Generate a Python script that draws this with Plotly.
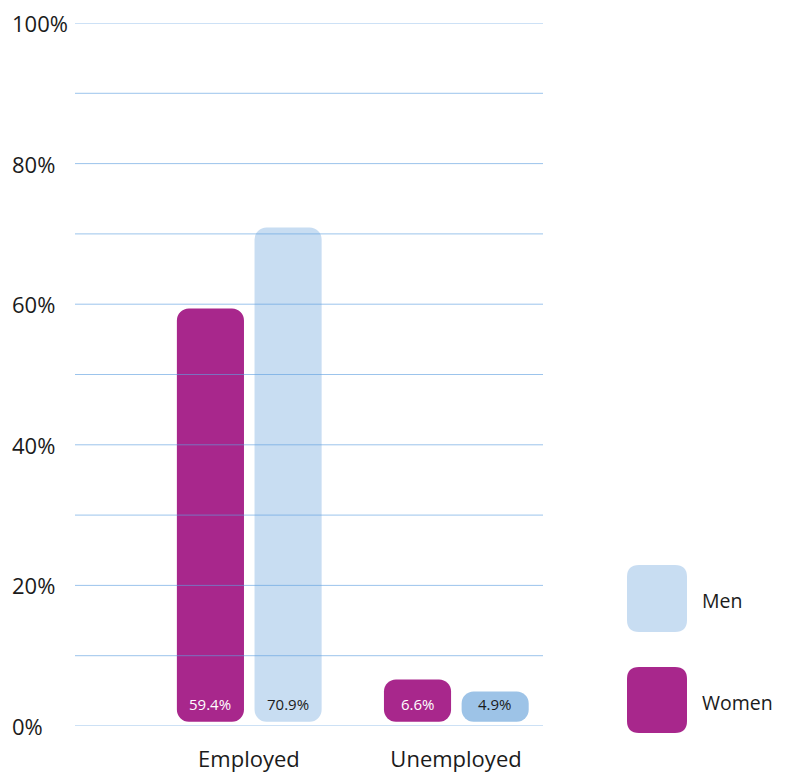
import plotly.graph_objects as go

# Employment status by sex (share of population, %)
categories = ["Employed", "Unemployed"]
women_values = [59.4, 6.6]
men_values = [70.9, 4.9]
y_ticks = [0, 20, 40, 60, 80, 100]
y_tick_labels = ["0%", "20%", "40%", "60%", "80%", "100%"]
legend_labels = ["Men", "Women"]

MAGENTA = "#a8278c"
MEN_LIGHT = "#c8ddf2"
MEN_DARK = "#9dc3e7"
GRID = "rgba(95,160,225,0.62)"
TEXT = "#1b1b1b"
FONT = "Open Sans"

BASE = 0.6          # small lift so bars float just above the zero line
BAR_W = 0.324       # bar width in category units
WOMEN_OFF = -0.348  # left edge of the women bar relative to category centre
MEN_OFF = 0.027     # left edge of the men bar relative to category centre

fig = go.Figure()

series = [
    ("Women", women_values, MAGENTA, WOMEN_OFF, "white"),
    ("Men", men_values, [MEN_LIGHT, MEN_DARK], MEN_OFF, TEXT),
]

for name, vals, color, off, txt_color in series:
    fig.add_trace(go.Bar(
        name=name, x=categories,
        y=[v - BASE for v in vals], base=BASE,
        width=BAR_W, offset=off,
        marker=dict(color=color, cornerradius=12, line=dict(width=0)),
        showlegend=False, hoverinfo="skip",
    ))
    # value labels near the foot of each bar
    for i, v in enumerate(vals):
        fig.add_annotation(x=i + off + BAR_W / 2, xref="x", y=0, yref="y",
                           yshift=22, yanchor="middle", text=f"{v:.1f}%",
                           showarrow=False,
                           font=dict(family=FONT, size=15, color=txt_color))

# Horizontal guide lines every 10%, drawn over the bars
for g in range(0, 101, 10):
    fig.add_shape(type="line", xref="paper", x0=0, x1=1, yref="y", y0=g, y1=g,
                  line=dict(color=GRID, width=1), layer="above")

plot_w, plot_h = 468, 703


def px_x(px):
    return (px - 75) / plot_w


def px_y(py):
    return (726 - py) / plot_h


# Left-aligned y tick labels
for t, lab in zip(y_ticks, y_tick_labels):
    fig.add_annotation(xref="paper", x=px_x(10), xanchor="left", yref="y", y=t,
                       yanchor="middle", text=lab, showarrow=False,
                       font=dict(family=FONT, size=22, color=TEXT))


def rounded_rect(x0, y0, x1, y1, r):
    rx, ry = r / plot_w, r / plot_h
    return (f"M {x0+rx},{y0} L {x1-rx},{y0} Q {x1},{y0} {x1},{y0+ry} "
            f"L {x1},{y1-ry} Q {x1},{y1} {x1-rx},{y1} L {x0+rx},{y1} "
            f"Q {x0},{y1} {x0},{y1-ry} L {x0},{y0+ry} Q {x0},{y0} {x0+rx},{y0} Z")


# Custom legend with rounded swatches
swatches = [(MEN_LIGHT, 565, 632), (MAGENTA, 667, 733)]
for (color, top, bottom), lab in zip(swatches, legend_labels):
    fig.add_shape(type="path", xref="paper", yref="paper",
                  path=rounded_rect(px_x(627), px_y(bottom), px_x(687), px_y(top), 12),
                  fillcolor=color, line=dict(width=0))
    fig.add_annotation(xref="paper", yref="paper", x=px_x(700), xanchor="left",
                       y=px_y((top + bottom) / 2 + 2), yanchor="middle",
                       text=lab, showarrow=False,
                       font=dict(family=FONT, size=19.5, color=TEXT))

fig.update_layout(
    width=785, height=776,
    margin=dict(l=75, r=242, t=23, b=50),
    paper_bgcolor="white", plot_bgcolor="white",
    barmode="overlay",
    xaxis=dict(range=[-0.84, 1.42], showgrid=False, zeroline=False, showline=False,
               ticks="", tickfont=dict(family=FONT, size=22, color=TEXT),
               ticklabelstandoff=18, automargin=False),
    yaxis=dict(range=[0, 100], showgrid=False, zeroline=False, showline=False,
               showticklabels=False, ticks="", automargin=False),
)

fig.write_html("out.html")
